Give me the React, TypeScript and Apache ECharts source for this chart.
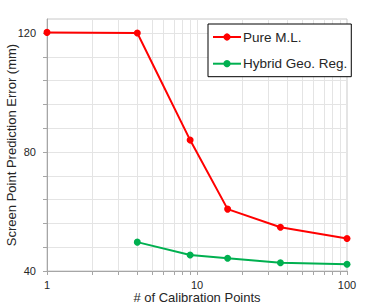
import React, { useEffect, useRef } from 'react';
import * as echarts from 'echarts';

const calibPoints = [1, 4, 9, 16, 36, 100];
const pureML = [120.2, 120.0, 84.0, 60.8, 54.7, 50.9];
const hybridPoints = [4, 9, 16, 36, 100];
const hybridGeo = [49.7, 45.4, 44.3, 42.8, 42.25];
const xTickValues = [1, 2, 3, 4, 5, 6, 7, 8, 9, 10, 20, 30, 40, 50, 60, 70, 80, 90, 100];
const xLabelValues = [1, 10, 100];
const yTickValues = [40, 48, 56, 64, 72, 80, 88, 96, 104, 112, 120];
const yLabelValues = [40, 80, 120];
const seriesNames = ['Pure M.L.', 'Hybrid Geo. Reg.'];

const FONT = 'Liberation Sans';
const TEXT = '#262626';

export default function App() {
  const ref = useRef<HTMLDivElement>(null);
  useEffect(() => {
    if (!ref.current) return;
    const chart = echarts.init(ref.current, undefined, { renderer: 'svg' });
    chart.setOption({
      animation: false,
      textStyle: { fontFamily: FONT },
      grid: {
        left: 47, right: 26, top: 19, bottom: 35,
        outerBoundsMode: 'none', containLabel: false,
        show: true, borderColor: '#c8c8c8', borderWidth: 1,
      },
      legend: {
        data: seriesNames,
        orient: 'vertical',
        left: 208, top: 24,
        padding: [6, 4, 6, 4],
        itemWidth: 28, itemHeight: 9, itemGap: 12.7,
        backgroundColor: '#fff',
        borderColor: '#000', borderWidth: 1,
        textStyle: { fontFamily: FONT, fontSize: 13.5, lineHeight: 14, color: TEXT, padding: [0, 0, 0, -3] },
      },
      xAxis: {
        type: 'log', logBase: 10, min: 1, max: 100,
        name: '# of Calibration Points', nameLocation: 'middle', nameGap: 20, nameMoveOverlap: false,
        nameTextStyle: { fontFamily: FONT, fontSize: 13, lineHeight: 13, color: TEXT },
        axisLine: { show: true, lineStyle: { color: '#a6a6a6', width: 1 } },
        axisTick: { show: true, length: 4, customValues: xTickValues, lineStyle: { color: '#a6a6a6' } },
        axisLabel: { customValues: xLabelValues, fontFamily: FONT, fontSize: 11, lineHeight: 10, color: TEXT, margin: 9 },
        splitLine: { show: true, lineStyle: { color: '#e4e4e4', width: 1 } },
      },
      yAxis: {
        type: 'value', min: 40, max: 124.7,
        name: 'Screen Point Prediction Error (mm)', nameLocation: 'middle', nameGap: 29, nameMoveOverlap: false,
        nameTextStyle: { fontFamily: FONT, fontSize: 13, color: TEXT },
        axisLine: { show: true, lineStyle: { color: '#a6a6a6', width: 1 } },
        axisTick: { show: true, length: 4, customValues: yTickValues, lineStyle: { color: '#a6a6a6' } },
        axisLabel: { customValues: yLabelValues, fontFamily: FONT, fontSize: 11, color: TEXT, margin: 11 },
        splitLine: { show: true, lineStyle: { color: '#e4e4e4', width: 1 } },
      },
      series: [
        {
          name: seriesNames[0], type: 'line', z: 3,
          data: calibPoints.map((x, i) => [x, pureML[i]]),
          symbol: 'circle', symbolSize: 7,
          lineStyle: { color: '#ff0000', width: 2 },
          itemStyle: { color: '#ff0000' },
        },
        {
          name: seriesNames[1], type: 'line', z: 3,
          data: hybridPoints.map((x, i) => [x, hybridGeo[i]]),
          symbol: 'circle', symbolSize: 7,
          lineStyle: { color: '#00b050', width: 2 },
          itemStyle: { color: '#00b050' },
        },
      ],
    });
    return () => chart.dispose();
  }, []);
  return <div ref={ref} style={{ position: 'fixed', left: 0, top: 0, width: 373, height: 306, background: '#fff' }} />;
}
